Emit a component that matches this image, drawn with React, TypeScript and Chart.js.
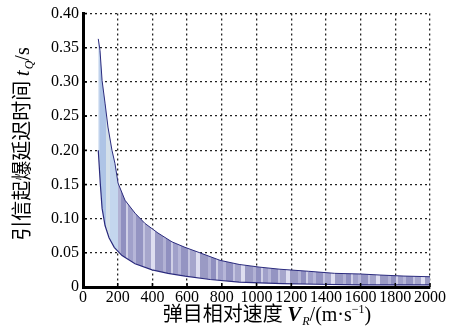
import React, { useEffect, useRef } from "react";
import { Chart, registerables } from "chart.js";

Chart.register(...registerables);
Chart.defaults.font.family = "'Liberation Serif', serif";

// ---- data ----
const xTicks = [0, 200, 400, 600, 800, 1000, 1200, 1400, 1600, 1800, 2000];
const yTicks = [0, 0.05, 0.1, 0.15, 0.2, 0.25, 0.3, 0.35, 0.4];

const xUpper = [88, 98, 110, 127, 144, 167, 184, 202, 242, 300, 357, 432, 513, 588, 674, 790, 900, 1020, 1135, 1300, 1450, 1600, 1712, 1850, 2000];
const upperT = [0.363, 0.346, 0.302, 0.269, 0.234, 0.2, 0.181, 0.152, 0.127, 0.108, 0.093, 0.079, 0.066, 0.058, 0.05, 0.039, 0.033, 0.029, 0.026, 0.023, 0.02, 0.019, 0.0175, 0.016, 0.015];

const xLower = [88, 100, 110, 127, 150, 180, 225, 300, 398, 490, 588, 732, 900, 1020, 1150, 1350, 1600, 1770, 2000];
const lowerT = [0.2, 0.15, 0.115, 0.09, 0.072, 0.058, 0.046, 0.034, 0.025, 0.02, 0.016, 0.011, 0.007, 0.006, 0.005, 0.004, 0.003, 0.003, 0.003];

const xMid = [150, 200, 250, 300, 400, 500, 600, 800, 1000, 1200, 1400, 1600, 1800, 2000];
const midT = [0.085, 0.066, 0.058, 0.051, 0.042, 0.034, 0.029, 0.02, 0.015, 0.012, 0.01, 0.008, 0.006, 0.005];

// ---- styles ----
const bandShades = ["#a0a0ca", "#b6b6d8", "#9494c2", "#c4c4e0", "#a6a6cc", "#dedef0", "#9a9ac4", "#b2b2d4", "#9090c0", "#cfcfe6"];
const leftShades = ["#c4d6ee", "#b6cae8", "#dce6c4", "#c0d2ec", "#aec4e6", "#d4e0ea"];
const stripeWidths = [5, 3, 7, 2, 6, 4, 8, 3, 5, 2];

const SERIF = "Liberation Serif";
const CJK = "Noto Sans CJK SC";

let gradCache: { key: string; g: CanvasGradient } | null = null;
function stripes(chart: any) {
  const area = chart.chartArea;
  const xs = chart.scales.x;
  const key = `${area.left}-${area.right}`;
  if (gradCache && gradCache.key === key) return gradCache.g;
  const ctx = chart.ctx as CanvasRenderingContext2D;
  const g = ctx.createLinearGradient(area.left, 0, area.right, 0);
  const w = area.right - area.left;
  const blueEnd = xs.getPixelForValue(190);
  let px = area.left;
  let i = 0;
  while (px < area.right) {
    const sw = stripeWidths[i % stripeWidths.length];
    const c = px < blueEnd ? leftShades[i % leftShades.length] : bandShades[i % bandShades.length];
    const p0 = Math.max(0, Math.min(1, (px - area.left) / w));
    const p1 = Math.max(0, Math.min(1, (px + sw - area.left) / w));
    g.addColorStop(p0, c);
    g.addColorStop(p1, c);
    px += sw;
    i++;
  }
  gradCache = { key, g };
  return g;
}

function drawRich(ctx: CanvasRenderingContext2D, parts: any[], cx: number, cy: number, rotate: boolean) {
  ctx.save();
  ctx.translate(cx, cy);
  if (rotate) ctx.rotate(-Math.PI / 2);
  ctx.textBaseline = "alphabetic";
  ctx.fillStyle = "#000";
  let total = 0;
  for (const p of parts) {
    ctx.font = p.font;
    total += ctx.measureText(p.text).width + (p.gap || 0);
  }
  let x = -total / 2;
  for (const p of parts) {
    ctx.font = p.font;
    ctx.fillText(p.text, x, 7 + (p.dy || 0));
    x += ctx.measureText(p.text).width + (p.gap || 0);
  }
  ctx.restore();
}

const titlePlugin = {
  id: "titles",
  afterDraw(chart: any) {
    const ctx = chart.ctx as CanvasRenderingContext2D;
    const xs = chart.scales.x;
    const ys = chart.scales.y;
    const area = chart.chartArea;
    ctx.save();
    ctx.strokeStyle = "#000";
    ctx.lineWidth = 1.5;
    ctx.beginPath();
    for (const v of xTicks) {
      const p = xs.getPixelForValue(v);
      ctx.moveTo(p, area.bottom);
      ctx.lineTo(p, area.bottom - 4);
    }
    for (const v of yTicks) {
      const p = ys.getPixelForValue(v);
      ctx.moveTo(area.left, p);
      ctx.lineTo(area.left + 4, p);
    }
    ctx.stroke();
    ctx.restore();

    drawRich(
      ctx,
      [
        { text: "弹目相对速度 ", font: `20px "${CJK}"` },
        { text: "V", font: `italic bold 21px "${SERIF}"`, gap: 1 },
        { text: "R", font: `italic 12px "${SERIF}"`, dy: 4 },
        { text: "/(m·s", font: `20px "${SERIF}"` },
        { text: "−1", font: `12px "${SERIF}"`, dy: -8 },
        { text: ")", font: `20px "${SERIF}"` },
      ],
      267,
      314,
      false
    );
    drawRich(
      ctx,
      [
        { text: "引信起爆延迟时间 ", font: `20px "${CJK}"` },
        { text: "t", font: `italic 21px "${SERIF}"`, gap: 1 },
        { text: "Q", font: `italic 12px "${SERIF}"`, dy: 4 },
        { text: "/s", font: `20px "${SERIF}"` },
      ],
      22,
      144,
      true
    );
  },
};

export default function App() {
  const ref = useRef<HTMLCanvasElement | null>(null);
  useEffect(() => {
    document.body.style.margin = "0";
    const toPts = (xs: number[], ys: number[]) => xs.map((x, i) => ({ x, y: ys[i] }));
    const chart = new Chart(ref.current as HTMLCanvasElement, {
      type: "line",
      data: {
        datasets: [
          {
            data: toPts(xUpper, upperT),
            borderColor: "#2b2b7e",
            borderWidth: 1,
            pointRadius: 0,
            fill: false,
            tension: 0,
          },
          {
            data: toPts(xLower, lowerT),
            borderColor: "#2b2b7e",
            borderWidth: 1.2,
            pointRadius: 0,
            fill: "-1",
            backgroundColor: (c: any) => {
              const chart = c.chart;
              if (!chart.chartArea) return "#a0a0cc";
              return stripes(chart);
            },
            tension: 0,
          },
          {
            data: toPts(xMid, midT),
            borderColor: "#1c1c78",
            borderWidth: 1.2,
            pointRadius: 0,
            fill: false,
            tension: 0.3,
          },
        ],
      },
      options: {
        animation: false,
        responsive: true,
        maintainAspectRatio: false,
        layout: { padding: { left: 0, top: 13, right: 23, bottom: 0 } },
        plugins: { legend: { display: false }, tooltip: { enabled: false }, title: { display: false } },
        scales: {
          x: {
            type: "linear",
            min: 0,
            max: 2000,
            afterFit: (s: any) => {
              s.height = 46;
            },
            afterBuildTicks: (s: any) => {
              s.ticks = xTicks.map((v) => ({ value: v }));
            },
            ticks: {
              color: "#000",
              font: { family: "'Liberation Serif', serif", size: 16 },
              padding: 1,
              maxRotation: 0,
              autoSkip: false,
              callback: (v: any) => String(v),
            },
            grid: { color: "#222", lineWidth: 1.3, drawTicks: false },
            border: { display: true, color: "#000", width: 3, dash: [2, 3] },
          },
          y: {
            type: "linear",
            min: 0,
            max: 0.4,
            afterFit: (s: any) => {
              s.width = 83;
            },
            afterBuildTicks: (s: any) => {
              s.ticks = yTicks.map((v) => ({ value: v }));
            },
            ticks: {
              color: "#000",
              font: { family: "serif", size: 16 },
              padding: 4,
              callback: (v: any) => (Number(v) === 0 ? "0" : Number(v).toFixed(2)),
            },
            grid: { color: "#222", lineWidth: 1.3, drawTicks: false },
            border: { display: true, color: "#000", width: 3, dash: [2, 3] },
          },
        },
      },
      plugins: [titlePlugin],
    });
    return () => chart.destroy();
  }, []);
  return (
    <div style={{ position: "fixed", left: 0, top: 0, width: 453, height: 333, background: "#fff" }}>
      <canvas ref={ref} />
    </div>
  );
}
